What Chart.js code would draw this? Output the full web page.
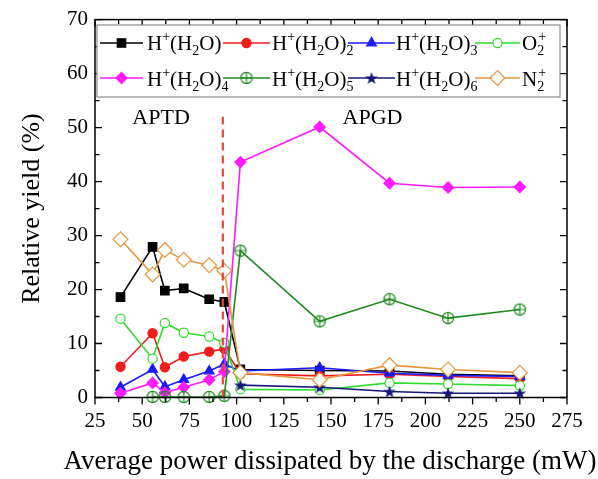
<!DOCTYPE html>
<html>
<head>
<meta charset="utf-8">
<script src="https://cdn.jsdelivr.net/npm/chart.js@4.4.1/dist/chart.umd.min.js"></script>
<style>
  html, body { margin: 0; padding: 0; background: #fff; }
  #wrap { width: 598px; height: 479px; }
</style>
</head>
<body>
<div id="wrap"><canvas id="yieldChart" width="598" height="479"></canvas></div>
<script>
// discharge power (mW): APTD points, then APGD points
const power = [38.5, 55.5, 62, 72, 85.5, 93.5, 102, 144, 181, 212, 250];

// relative yields (%) per ion
const yieldH1 = [18.6, 27.9, 19.8, 20.2, 18.2, 17.7, 5.2, 5.0, 4.9, 4.3, 4.0];
const yieldH2 = [5.7, 11.9, 5.6, 7.6, 8.5, 9.0, 4.4, 4.0, 4.3, 3.9, 3.5];
const yieldH3 = [1.9, 5.2, 2.0, 3.3, 4.9, 6.2, 4.9, 5.5, 4.5, 4.1, 3.9];
const yieldO2 = [14.6, 7.2, 13.8, 12.0, 11.3, 10.1, 1.5, 1.4, 2.7, 2.5, 2.2];
const yieldH4 = [0.8, 2.7, 0.9, 1.9, 3.3, 4.8, 43.6, 50.1, 39.7, 38.9, 39.0];
const yieldH5 = [null, 0.1, 0.1, 0.1, 0.1, 0.3, 27.2, 14.1, 18.2, 14.7, 16.3];
const yieldH6 = [null, null, null, null, null, null, 2.3, 1.9, 1.1, 0.8, 0.8];
const yieldN2 = [29.3, 22.8, 27.3, 25.5, 24.5, 23.5, 4.6, 3.3, 6.0, 5.2, 4.6];

// axis ticks
const xTickValues = [25, 50, 75, 100, 125, 150, 175, 200, 225, 250, 275];
const yTickValues = [0, 10, 20, 30, 40, 50, 60, 70];

// APTD / APGD boundary and region names
const boundaryPower = 92.7;
const boundaryTop = 52;
const regionLabels = ["APTD", "APGD"];
const regionLabelX = [60, 172];
const regionLabelY = 51.8;

const xTitle = "Average power dissipated by the discharge (mW)";

const FONT = '"Liberation Serif", "Times New Roman", serif';
Chart.defaults.font.family = FONT;
Chart.defaults.color = "#000";

// custom markers: circle with plus, filled star
function makeCirclePlus(color) {
  const c = document.createElement("canvas");
  c.width = c.height = 14;
  const g = c.getContext("2d");
  g.strokeStyle = color;
  g.lineWidth = 1.2;
  g.beginPath();
  g.arc(7, 7, 5.6, 0, Math.PI * 2);
  g.stroke();
  g.beginPath();
  g.moveTo(1.4, 7); g.lineTo(12.6, 7);
  g.moveTo(7, 1.4); g.lineTo(7, 12.6);
  g.stroke();
  return c;
}
function makeStar(color) {
  const c = document.createElement("canvas");
  c.width = c.height = 14;
  const g = c.getContext("2d");
  g.fillStyle = color;
  g.beginPath();
  for (let k = 0; k < 10; k++) {
    const r = k % 2 ? 2.7 : 6.6;
    const a = -Math.PI / 2 + (k * Math.PI) / 5;
    g.lineTo(7 + r * Math.cos(a), 7.6 + r * Math.sin(a));
  }
  g.closePath();
  g.fill();
  return c;
}

const toPoints = (vals) =>
  power.map((x, i) => ({ x, y: vals[i] })).filter((p) => p.y !== null);

// legend label pieces: [text, kind]
const series = [
  { name: [["H"], ["+", "sup"], ["(H"], ["2", "sub"], ["O)"]], vals: yieldH1, color: "#000000", fill: "#000000", style: "rect", r: 6 },
  { name: [["H"], ["+", "sup"], ["(H"], ["2", "sub"], ["O)"], ["2", "sub"]], vals: yieldH2, color: "#f01c1c", fill: "#f01c1c", style: "circle", r: 4.6 },
  { name: [["H"], ["+", "sup"], ["(H"], ["2", "sub"], ["O)"], ["3", "sub"]], vals: yieldH3, color: "#1a1aff", fill: "#1a1aff", style: "triangle", r: 5.6 },
  { name: [["O"], [["2", "+"], "subsup"]], vals: yieldO2, color: "#2fdc2f", fill: "#ffffff", style: "circle", r: 4.6 },
  { name: [["H"], ["+", "sup"], ["(H"], ["2", "sub"], ["O)"], ["4", "sub"]], vals: yieldH4, color: "#ff1aff", fill: "#ff1aff", style: "rectRot", r: 5.6 },
  { name: [["H"], ["+", "sup"], ["(H"], ["2", "sub"], ["O)"], ["5", "sub"]], vals: yieldH5, color: "#1f8a1f", fill: "rgba(0,0,0,0)", style: makeCirclePlus("#1f8a1f"), r: 6 },
  { name: [["H"], ["+", "sup"], ["(H"], ["2", "sub"], ["O)"], ["6", "sub"]], vals: yieldH6, color: "#16167a", fill: "#16167a", style: makeStar("#16167a"), r: 6 },
  { name: [["N"], [["2", "+"], "subsup"]], vals: yieldN2, color: "#e8953e", fill: "#ffffff", style: "rectRot", r: 7.4 },
];

const datasets = series.map((s, i) => ({
  data: toPoints(s.vals),
  borderColor: s.color,
  backgroundColor: s.fill,
  pointStyle: s.style,
  pointRadius: s.r,
  pointBorderWidth: 1.2,
  borderWidth: 1.6,
  clip: false,
  order: 10 - i,
}));

// dashed boundary line between the two regimes
datasets.push({
  data: [{ x: boundaryPower, y: 0 }, { x: boundaryPower, y: boundaryTop }],
  borderColor: "#e8453c",
  borderWidth: 2.2,
  borderDash: [8, 5],
  pointRadius: 0,
  clip: false,
  order: -1,
});

function drawRich(ctx, parts, x, y) {
  let cx = x;
  ctx.textAlign = "left";
  ctx.textBaseline = "alphabetic";
  parts.forEach(([t, kind]) => {
    if (!kind) {
      ctx.font = "21px " + FONT;
      ctx.fillText(t, cx, y);
      cx += ctx.measureText(t).width;
    } else if (kind === "sub") {
      ctx.font = "14px " + FONT;
      ctx.fillText(t, cx, y + 5);
      cx += ctx.measureText(t).width;
    } else if (kind === "sup") {
      ctx.font = "14px " + FONT;
      ctx.fillText(t, cx, y - 9);
      cx += ctx.measureText(t).width;
    } else if (kind === "subsup") {
      ctx.font = "14px " + FONT;
      ctx.fillText(t[0], cx, y + 5);
      ctx.fillText(t[1], cx + 1, y - 9);
    }
  });
}

const framePlugin = {
  id: "frame",
  afterDraw(chart) {
    const { ctx, chartArea: a, scales } = chart;
    const xs = scales.x, ys = scales.y;
    ctx.save();

    // axis box
    ctx.strokeStyle = "#000";
    ctx.lineWidth = 1.5;
    ctx.strokeRect(a.left, a.top, a.right - a.left, a.bottom - a.top);

    // ticks: bottom outward, others inward
    ctx.lineWidth = 1.3;
    ctx.beginPath();
    for (let v = xTickValues[0]; v <= xTickValues[xTickValues.length - 1]; v += 12.5) {
      const px = xs.getPixelForValue(v);
      const len = (v - xTickValues[0]) % 25 === 0 ? 7 : 4.5;
      ctx.moveTo(px, a.bottom); ctx.lineTo(px, a.bottom + len);
      ctx.moveTo(px, a.top); ctx.lineTo(px, a.top + len);
    }
    for (let v = yTickValues[0]; v <= yTickValues[yTickValues.length - 1]; v += 5) {
      const py = ys.getPixelForValue(v);
      const len = v % 10 === 0 ? 7 : 4.5;
      ctx.moveTo(a.left, py); ctx.lineTo(a.left + len, py);
      ctx.moveTo(a.right, py); ctx.lineTo(a.right - len, py);
    }
    ctx.stroke();

    // x axis title (wider than the plot, so drawn here)
    ctx.fillStyle = "#000";
    ctx.font = "27px " + FONT;
    ctx.textAlign = "center";
    ctx.textBaseline = "middle";
    ctx.fillText(xTitle, 330, 462, 536);

    // region names
    ctx.font = "22px " + FONT;
    regionLabels.forEach((t, i) => {
      ctx.fillText(t, xs.getPixelForValue(regionLabelX[i]), ys.getPixelForValue(regionLabelY));
    });

    // legend box
    ctx.fillStyle = "#fff";
    ctx.fillRect(97, 25, 463, 72);
    ctx.strokeStyle = "#8c8c8c";
    ctx.lineWidth = 1.2;
    ctx.strokeRect(97, 25, 463, 72);

    const lineStart = [100, 223, 348, 475];
    const lineEnd = [143, 270, 395, 520];
    const textX = [147, 272, 396, 522];
    const rowY = [43, 78];
    const rowBase = [50, 86];
    series.forEach((s, i) => {
      const col = i % 4, row = Math.floor(i / 4);
      ctx.strokeStyle = s.color;
      ctx.lineWidth = 1.6;
      ctx.beginPath();
      ctx.moveTo(lineStart[col], rowY[row]);
      ctx.lineTo(lineEnd[col], rowY[row]);
      ctx.stroke();
      ctx.fillStyle = s.fill;
      ctx.strokeStyle = s.color;
      ctx.lineWidth = 1.2;
      Chart.helpers.drawPoint(ctx, { pointStyle: s.style, radius: s.r, rotation: 0, borderWidth: 1.2 },
        (lineStart[col] + lineEnd[col]) / 2, rowY[row]);
      ctx.fillStyle = "#000";
      drawRich(ctx, s.name, textX[col], rowBase[row]);
    });

    ctx.restore();
  },
};

new Chart(document.getElementById("yieldChart"), {
  type: "line",
  data: { datasets },
  plugins: [framePlugin],
  options: {
    responsive: false,
    animation: false,
    layout: { padding: { top: 17, right: 31, left: 0, bottom: 0 } },
    plugins: { legend: { display: false }, tooltip: { enabled: false } },
    elements: { line: { tension: 0 } },
    scales: {
      x: {
        type: "linear",
        min: xTickValues[0],
        max: xTickValues[xTickValues.length - 1],
        afterBuildTicks: (s) => { s.ticks = xTickValues.map((v) => ({ value: v })); },
        grid: { display: false, drawTicks: false },
        border: { display: false },
        ticks: { color: "#000", font: { size: 21 }, padding: 11, maxRotation: 0, autoSkip: false },
        afterFit: (s) => { s.height = 81.5; },
      },
      y: {
        type: "linear",
        min: yTickValues[0],
        max: yTickValues[yTickValues.length - 1],
        afterBuildTicks: (s) => { s.ticks = yTickValues.map((v) => ({ value: v })); },
        grid: { display: false, drawTicks: false },
        border: { display: false },
        ticks: { color: "#000", font: { size: 21 }, padding: 7 },
        title: {
          display: true,
          text: "Relative yield (%)",
          color: "#000",
          font: { size: 26 },
          padding: { top: 17, bottom: 0 },
        },
        afterFit: (s) => { s.width = 95; },
      },
    },
  },
});
</script>
</body>
</html>
